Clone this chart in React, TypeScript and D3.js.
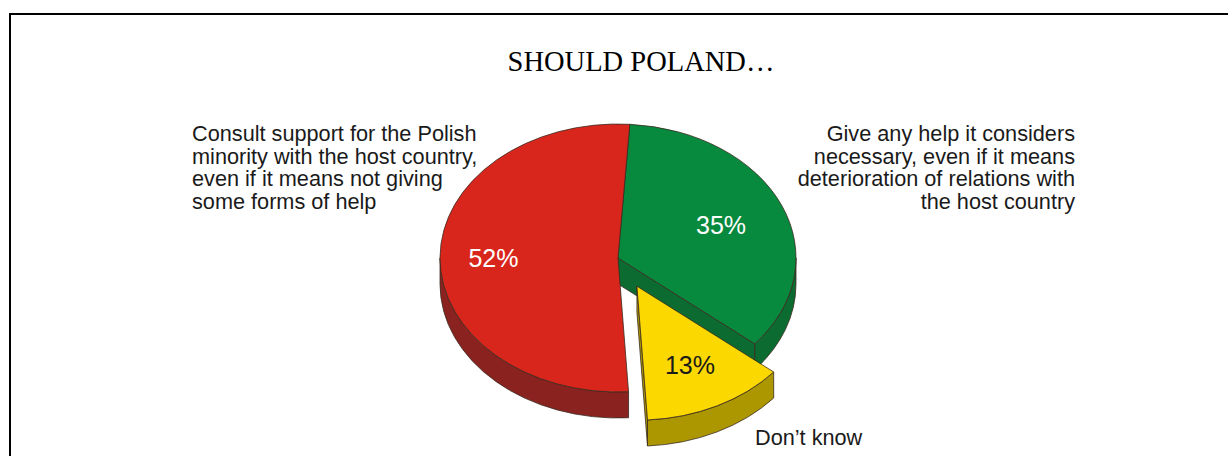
import React from 'react';
import * as d3 from 'd3';

const title = "SHOULD POLAND…";
const categories = ["Give any help", "Don't know", "Consult support"];
const values = [35, 13, 52];
const percentLabels = ["35%", "13%", "52%"];
const labelLines: string[][] = [
  ["Give any help it considers", "necessary, even if it means", "deterioration of relations with", "the host country"],
  ["Don’t know"],
  ["Consult support for the Polish", "minority with the host country,", "even if it means not giving", "some forms of help"],
];
const topColors = ["#078a3e", "#fbd800", "#d9261c"];
const sideColors = ["#0b6b31", "#ad9700", "#8a2320"];
const percentColors = ["#ffffff", "#1a1a1a", "#ffffff"];
const labelRadius = [0.63, 0.66, 0.7];
const explode = [0, 42, 0];

const W = 1228, H = 456;
const CX = 618, CY = 258, R = 178, K = 134 / 178, DEPTH = 26 / K;
const START = (3.8 * Math.PI) / 180;

const pt = (a: number, r: number): [number, number] => [r * Math.sin(a), -r * Math.cos(a)];

function wallPath(a0: number, a1: number): string | null {
  const s = Math.max(a0, Math.PI / 2);
  const e = Math.min(a1, (3 * Math.PI) / 2);
  if (s >= e) return null;
  const p = d3.path();
  const [sx, sy] = pt(s, R);
  p.moveTo(sx, sy);
  p.arc(0, 0, R, s - Math.PI / 2, e - Math.PI / 2, false);
  const [ex, ey] = pt(e, R);
  p.lineTo(ex, ey + DEPTH);
  p.arc(0, DEPTH, R, e - Math.PI / 2, s - Math.PI / 2, true);
  p.closePath();
  return p.toString();
}

function radialFace(a: number): string {
  const [x, y] = pt(a, R);
  const p = d3.path();
  p.moveTo(0, 0);
  p.lineTo(x, y);
  p.lineTo(x, y + DEPTH);
  p.lineTo(0, DEPTH);
  p.closePath();
  return p.toString();
}

export default function App() {
  const pie = d3.pie<number>().sort(null).startAngle(START).endAngle(START + 2 * Math.PI);
  const arcs = pie(values);
  const arcGen = d3.arc<d3.PieArcDatum<number>>().innerRadius(0).outerRadius(R);
  const stroke = "#3a2a20";
  const sw = 0.8;

  const sliceGroup = (i: number) => {
    const d = arcs[i];
    const mid = (d.startAngle + d.endAngle) / 2;
    const [ox, oy] = pt(mid, explode[i]);
    const wall = wallPath(d.startAngle, d.endAngle);
    const faces: string[] = [];
    const nEnd = d.endAngle + Math.PI / 2;
    if (-Math.cos(nEnd) > 0.03 && explode[(i + 1) % 3] + explode[i] > 0) faces.push(radialFace(d.endAngle));
    const nStart = d.startAngle - Math.PI / 2;
    if (-Math.cos(nStart) > 0.03 && explode[(i + 2) % 3] + explode[i] > 0) faces.push(radialFace(d.startAngle));
    return (
      <g key={categories[i]} transform={`translate(${ox},${oy})`}>
        {faces.map((f, j) => (
          <path key={j} d={f} fill={sideColors[i]} stroke={stroke} strokeWidth={sw} vectorEffect="non-scaling-stroke" />
        ))}
        {wall && <path d={wall} fill={sideColors[i]} stroke={stroke} strokeWidth={sw} vectorEffect="non-scaling-stroke" />}
        <path d={arcGen(d) || ""} fill={topColors[i]} stroke={stroke} strokeWidth={sw} vectorEffect="non-scaling-stroke" />
      </g>
    );
  };

  const pctPos = arcs.map((d, i) => {
    const mid = (d.startAngle + d.endAngle) / 2;
    const [ox, oy] = pt(mid, explode[i]);
    const [x, y] = pt(mid, R * labelRadius[i]);
    return [CX + x + ox, CY + (y + oy) * K];
  });

  const font = "'Liberation Sans', Arial, sans-serif";
  const lineH = 22.5;
  const fs = 21.7;

  return (
    <svg width={W} height={H} style={{ position: 'absolute', left: 0, top: 0, background: '#fff' }}>
      <rect x={10} y={14} width={W + 20} height={H + 20} fill="#fff" stroke="#000" strokeWidth={2} />
      <text x={641} y={71} textAnchor="middle" fontFamily="'Liberation Serif', 'Times New Roman', serif" fontSize={28.5} fill="#000">
        {title}
      </text>
      <g transform={`translate(${CX},${CY}) scale(1,${K})`}>
        {sliceGroup(0)}
        {sliceGroup(2)}
        {sliceGroup(1)}
      </g>
      {pctPos.map(([x, y], i) => (
        <text key={i} x={x} y={y} dy="0.36em" textAnchor="middle" fontFamily={font} fontSize={25} fill={percentColors[i]}>
          {percentLabels[i]}
        </text>
      ))}
      <text fontFamily={font} fontSize={fs} fill="#1a1a1a" textAnchor="start">
        {labelLines[2].map((l, j) => (
          <tspan key={j} x={192} y={141 + j * lineH}>{l}</tspan>
        ))}
      </text>
      <text fontFamily={font} fontSize={fs} fill="#1a1a1a" textAnchor="end">
        {labelLines[0].map((l, j) => (
          <tspan key={j} x={1075} y={141 + j * lineH}>{l}</tspan>
        ))}
      </text>
      <text fontFamily={font} fontSize={fs} fill="#1a1a1a" textAnchor="start">
        {labelLines[1].map((l, j) => (
          <tspan key={j} x={755} y={445 + j * lineH}>{l}</tspan>
        ))}
      </text>
    </svg>
  );
}
